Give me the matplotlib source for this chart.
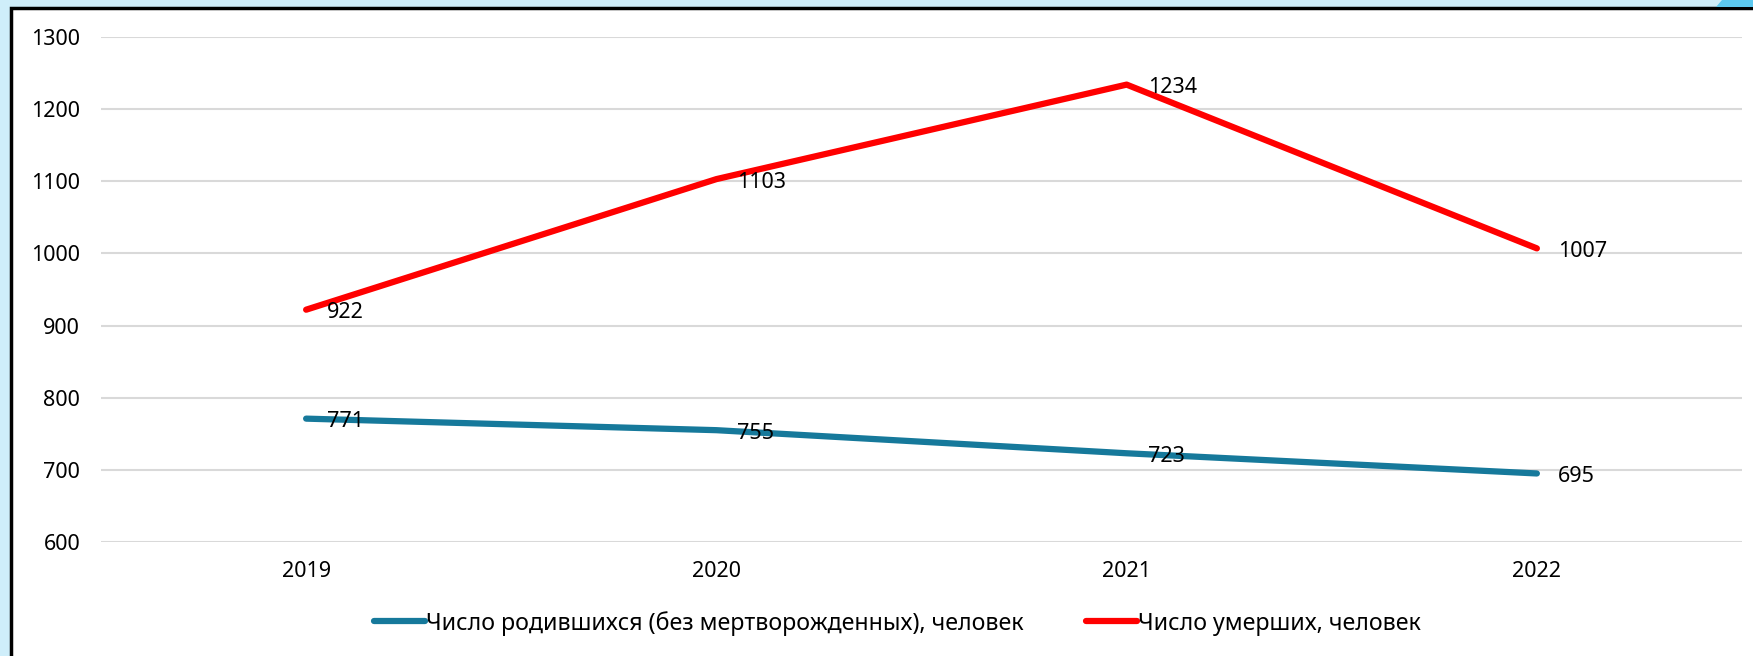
import matplotlib
matplotlib.use("Agg")
import matplotlib.pyplot as plt
from matplotlib.patches import Rectangle, Polygon

plt.rcParams["font.family"] = ["Noto Sans", "DejaVu Sans"]

years = ["2019", "2020", "2021", "2022"]
born = [771, 755, 723, 695]
died = [922, 1103, 1234, 1007]
born_label = "Число родившихся (без мертворожденных), человек"
died_label = "Число умерших, человек"
yticks = [600, 700, 800, 900, 1000, 1100, 1200, 1300]

W, H = 1753, 656
fig = plt.figure(figsize=(W / 100, H / 100), dpi=100)
fig.patch.set_facecolor("#cfeefa")

# white slide panel with black frame on left/top
fig.patches.append(Rectangle((11 / W, -0.1), 1.1, (H - 8) / H + 0.1, transform=fig.transFigure,
                             facecolor="white", edgecolor="black", linewidth=2.5, zorder=-2))
# small decoration at top-right corner
fig.patches.append(Polygon([(1722 / W, 1), (1.0, 1), (1.0, (H - 7) / H), (1716 / W, (H - 7) / H)],
                           closed=True, transform=fig.transFigure, facecolor="#5cc8ef",
                           edgecolor="none", zorder=-1))

ax = fig.add_axes([101 / W, (H - 542) / H, (1742 - 101) / W, (542 - 37) / H])
ax.set_zorder(1)
ax.set_facecolor("none")
x = range(len(years))
ax.plot(x, born, color="#16799b", lw=4.5, solid_capstyle="round", label=born_label, zorder=3)
ax.plot(x, died, color="#ff0000", lw=4.5, solid_capstyle="round", label=died_label, zorder=3)

for xs, vals in [(x, born), (x, died)]:
    for xi, v in zip(xs, vals):
        ax.annotate(str(v), (xi, v), xytext=(21, -3), textcoords="offset pixels",
                    ha="left", va="center", fontsize=15.5, zorder=4)

ax.set_xlim(-0.5, len(years) - 0.5)
ax.set_ylim(600, 1300)
ax.set_yticks(yticks)
ax.set_xticks(list(x))
ax.set_xticklabels(years)
ax.tick_params(axis="both", length=0, labelsize=15.5)
ax.tick_params(axis="y", pad=15)
ax.tick_params(axis="x", pad=14)
ax.grid(axis="y", color="#d9d9d9", lw=1.5)
ax.set_axisbelow(True)
for s in ax.spines.values():
    s.set_visible(False)

fig.legend(loc="center", bbox_to_anchor=(0.512, 0.05), ncol=2, frameon=False,
           fontsize=16.7, handlelength=2.2, handletextpad=0.05, columnspacing=2.7)

fig.savefig("out.png", dpi=100)
